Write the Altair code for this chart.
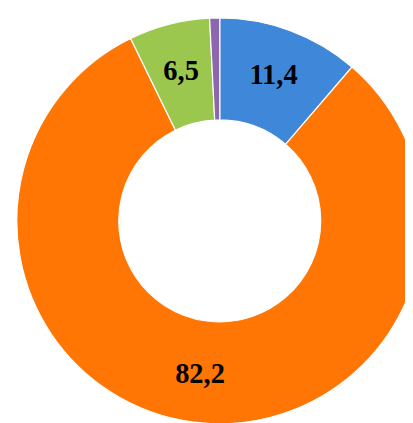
import altair as alt
import pandas as pd

categories = ["A", "B", "C", "D"]
values = [11.4, 82.2, 6.5, 0.8]
labels = ["11,4", "82,2", "6,5", ""]
colors = ["#3F87D9", "#FF7604", "#9CC74F", "#8C67B0"]
order = [0, 1, 2, 3]

df = pd.DataFrame({"cat": categories, "value": values, "label": labels, "ord": order})

cx, cy = 216, 213

base = alt.Chart(df).encode(
    theta=alt.Theta("value:Q", stack=True),
    order=alt.Order("ord:Q"),
)

arcs = base.mark_arc(innerRadius=103, outerRadius=207, stroke="white", strokeWidth=1.2).encode(
    color=alt.Color("cat:N", scale=alt.Scale(domain=categories, range=colors), legend=None),
    x=alt.value(cx),
    y=alt.value(cy),
)

text = base.mark_text(font="Liberation Serif", fontWeight="bold", fontSize=29, color="black",
                      align="center", baseline="middle").encode(
    text="label:N",
    radius=alt.value(158),
    x=alt.value(cx),
    y=alt.value(cy),
)

chart = (arcs + text).properties(width=405, height=415, padding=0, autosize="none").configure_view(stroke=None)

chart.save("out.html", embed_options={"renderer": "svg", "actions": False})
